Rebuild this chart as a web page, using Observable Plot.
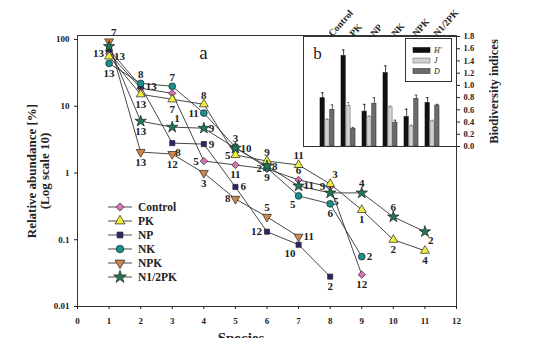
<!DOCTYPE html>
<html><head><meta charset="utf-8">
<script src="https://cdn.jsdelivr.net/npm/d3@7"></script>
<script src="https://cdn.jsdelivr.net/npm/@observablehq/plot@0.6"></script>
<style>
html,body{margin:0;padding:0;background:#fff;overflow:hidden;}
#wrap{position:relative;width:538px;height:338px;font-family:"Liberation Serif","Times New Roman",serif;}
#main{position:absolute;left:0;top:0;}
#inset{position:absolute;left:301px;top:0;}
#legA{position:absolute;left:100px;top:198px;}
#legB{position:absolute;left:405px;top:38px;}
</style></head><body>
<div id="wrap"><div id="main"></div><div id="inset"></div><div id="legA"></div><div id="legB"></div></div>
<script>
// ---------- Panel a: rank-abundance ----------
const treatments = ["Control", "PK", "NP", "NK", "NPK", "N1/2PK"];
const xTicks = [0,1,2,3,4,5,6,7,8,9,10,11,12];
const yTicks = [0.01, 0.1, 1, 10, 100];

const abundControl = [61.8, 18.6, 15.6, 1.51, 1.32, 1.15, 0.787, 0.618, 0.030];
const speciesControl = ["13", "", "", "5", "11", "2", "6", "9", "12"];
const posControl = ["l", "", "", "l", "b", "l", "t", "l", "b"];

const abundPK = [55.7, 15.1, 12.7, 10.7, 1.86, 1.51, 1.32, 0.685, 0.28, 0.10, 0.0685];
const speciesPK = ["13", "13", "7", "8", "5", "9", "11", "3", "1", "2", "4"];
const posPK = ["r", "b", "b", "t", "l", "t", "t", "tr", "b", "b", "b"];

const abundNP = [70.9, 19.9, 2.80, 2.71, 0.618, 0.132, 0.0842, 0.028];
const speciesNP = ["", "13", "8", "9", "6", "12", "10", "2"];
const posNP = ["", "r", "br", "r", "r", "l", "bl", "b"];

const abundNK = [43.8, 22.0, 19.9, 7.9, 2.44, 1.19, 0.454, 0.345, 0.0558];
const speciesNK = ["13", "8", "7", "11", "3", "9", "5", "6", "2"];
const posNK = ["b", "t", "t", "l", "t", "b", "bl", "b", "r"];

const abundNPK = [93.3, 2.06, 1.92, 1.0, 0.409, 0.220, 0.111];
const speciesNPK = ["7", "13", "12", "3", "8", "5", "11"];
const posNPK = ["tr", "b", "b", "b", "l", "t", "r"];

const abundN12PK = [78.6, 5.97, 4.86, 4.69, 2.36, 1.27, 0.64, 0.503, 0.503, 0.220, 0.132];
const speciesN12PK = ["", "13", "1", "9", "10", "8", "11", "5", "4", "6", "2"];
const posN12PK = ["", "b", "tr", "r", "r", "r", "r", "br", "t", "t", "br"];

// ---------- Panel b: biodiversity indices ----------
const metrics = ["H'", "J", "D"];
const valH = [0.79, 1.48, 0.57, 1.20, 0.48, 0.71];
const errH = [0.09, 0.10, 0.12, 0.12, 0.13, 0.09];
const valJ = [0.43, 0.66, 0.48, 0.64, 0.33, 0.41];
const errJ = [0.02, 0.06, 0.02, 0.02, 0.02, 0.02];
const valD = [0.60, 0.29, 0.70, 0.39, 0.78, 0.67];
const errD = [0.08, 0.02, 0.10, 0.04, 0.06, 0.02];
const yTicksB = [0, 0.2, 0.4, 0.6, 0.8, 1.0, 1.2, 1.4, 1.6, 1.8];

// ---------- build tables ----------
const seriesDefs = [
  ["Control", abundControl, speciesControl, posControl],
  ["PK", abundPK, speciesPK, posPK],
  ["NP", abundNP, speciesNP, posNP],
  ["NK", abundNK, speciesNK, posNK],
  ["NPK", abundNPK, speciesNPK, posNPK],
  ["N1/2PK", abundN12PK, speciesN12PK, posN12PK]
];
const rows = [];
for (const [t, vals, sp, ps] of seriesDefs)
  vals.forEach((v, i) => rows.push({treatment: t, rank: i + 1, value: v, species: sp[i], pos: ps[i]}));

const sqrt3 = Math.sqrt(3);
const triangleDown = {draw(ctx, size) {
  const y = -Math.sqrt(size / (sqrt3 * 3));
  ctx.moveTo(0, -y * 2); ctx.lineTo(-sqrt3 * y, y); ctx.lineTo(sqrt3 * y, y); ctx.closePath();
}};
const symbolOf = {"Control": d3.symbolDiamond2, "PK": d3.symbolTriangle, "NP": d3.symbolSquare, "NK": d3.symbolCircle, "NPK": triangleDown, "N1/2PK": d3.symbolStar};
const colorOf = {"Control": "#e070b6", "PK": "#f2f03c", "NP": "#28286e", "NK": "#17918c", "NPK": "#d48648", "N1/2PK": "#1f7a52"};
const radiusOf = {"Control": 3.3, "PK": 3.3, "NP": 2.9, "NK": 3.4, "NPK": 3.3, "N1/2PK": 3.6};

const posStyle = {
  t: {dx: 0, dy: -9, textAnchor: "middle"},
  b: {dx: 0, dy: 10, textAnchor: "middle"},
  l: {dx: -5, dy: 0, textAnchor: "end"},
  r: {dx: 5, dy: 0, textAnchor: "start"},
  tr: {dx: 2, dy: -9, textAnchor: "start"},
  tl: {dx: -2, dy: -9, textAnchor: "end"},
  br: {dx: 3, dy: 9, textAnchor: "start"},
  bl: {dx: -3, dy: 9, textAnchor: "end"}
};

const serif = "'Liberation Serif','Times New Roman',serif";

const mainMarks = [
  Plot.frame({stroke: "#333", strokeWidth: 1}),
  Plot.axisX({ticks: xTicks, tickSize: 3, tickPadding: 8, label: null, fontWeight: "bold", fontSize: 9, tickFormat: d => String(d)}),
  Plot.axisY({ticks: yTicks, tickSize: 3, tickPadding: 5, label: null, fontWeight: "bold", fontSize: 9, tickFormat: d => String(d)}),
  Plot.line(rows, {x: "rank", y: "value", z: "treatment", stroke: "#333", strokeWidth: 0.9})
];
for (const t of treatments) {
  mainMarks.push(Plot.dot(rows.filter(d => d.treatment === t), {
    x: "rank", y: "value", symbol: symbolOf[t], fill: colorOf[t], stroke: "#222", strokeWidth: 0.7, r: radiusOf[t]
  }));
}
for (const p of Object.keys(posStyle)) {
  mainMarks.push(Plot.text(rows.filter(d => d.pos === p && d.species), {
    x: "rank", y: "value", text: "species", ...posStyle[p], fontSize: 11, fontWeight: "bold", fill: "#222"
  }));
}
mainMarks.push(
  Plot.text(["a"], {frameAnchor: "top-left", dx: 126, dy: 17, textAnchor: "middle", lineAnchor: "middle", fontSize: 19, fill: "#222"}),
  Plot.text(["Relative abundance [%]\n(Log scale 10)"], {frameAnchor: "left", dx: -39, rotate: -90, textAnchor: "middle", lineAnchor: "middle", lineHeight: 1.0, fontSize: 13, fontWeight: "bold", fill: "#222"}),
  Plot.text(["Species"], {frameAnchor: "bottom", dx: -26, dy: 26, lineAnchor: "top", fontSize: 15, fontWeight: "bold", fill: "#222"})
);

const main = Plot.plot({
  width: 538, height: 338,
  marginLeft: 77, marginRight: 82, marginTop: 35, marginBottom: 32,
  style: {fontFamily: serif, color: "#222", background: "transparent", overflow: "visible"},
  x: {domain: [0, 12]},
  y: {type: "log", domain: [0.01, 114.7]},
  marks: mainMarks
});
document.getElementById("main").append(main);

// ---------- inset ----------
const bRows = treatments.map((t, i) => ({treatment: t, h: valH[i], he: errH[i], j: valJ[i], je: errJ[i], dd: valD[i], de: errD[i]}));
const plotW = 153, padIn = 0.33, padOut = 0.666;
const step = plotW / (treatments.length - padIn + 2 * padOut);
const bw = step * (1 - padIn);
const w3 = bw / 3;
const capHalf = 1.6;
function cap(k) { return {insetLeft: (k + 0.5) * w3 - capHalf, insetRight: bw - (k + 0.5) * w3 - capHalf}; }
const keyFields = [["h", "he", "#111", "#111"], ["j", "je", "#d0d0d0", "#777"], ["dd", "de", "#6b6b6b", "#333"]];
const insetMarks = [];
keyFields.forEach(([f, e, fill, stroke], k) => {
  insetMarks.push(
    Plot.ruleX(bRows, {x: "treatment", y1: f, y2: d => d[f] + d[e], dx: (k - 1) * w3, stroke: stroke, strokeWidth: 0.8}),
    Plot.tickY(bRows, {x: "treatment", y: d => d[f] + d[e], stroke: stroke, strokeWidth: 0.8, ...cap(k)}),
    Plot.barY(bRows, {x: "treatment", y: f, fill: fill, stroke: stroke, strokeWidth: 0.6, insetLeft: k * w3, insetRight: (2 - k) * w3})
  );
});
insetMarks.push(
  Plot.frame({stroke: "#333", strokeWidth: 1}),
  Plot.axisY({anchor: "right", ticks: yTicksB, tickSize: 3, tickPadding: 4, tickFormat: d => d.toFixed(1), label: null, fontWeight: "bold", fontSize: 8.5}),
  Plot.text(treatments, {x: d => d, frameAnchor: "top", dy: -4, rotate: -48, textAnchor: "start", fontSize: 9.5, fontWeight: "bold", fill: "#222"}),
  Plot.text(["b"], {frameAnchor: "top-left", dx: 14, dy: 17, textAnchor: "middle", lineAnchor: "middle", fontSize: 17, fill: "#222"}),
  Plot.text(["Biodiversity indices"], {frameAnchor: "right", dx: 37, rotate: -90, textAnchor: "middle", lineAnchor: "middle", fontSize: 12.5, fontWeight: "bold", fill: "#222"})
);
const inset = Plot.plot({
  width: 237, height: 150,
  marginLeft: 2, marginRight: 82, marginTop: 36, marginBottom: 4,
  style: {fontFamily: serif, color: "#222", background: "transparent", overflow: "visible"},
  x: {type: "band", domain: treatments, paddingInner: padIn, paddingOuter: padOut, axis: null},
  y: {domain: [0, 1.8], axis: null},
  marks: insetMarks
});
// white backdrop for inset plot area
d3.select(inset).insert("rect", ":first-child").attr("x", 2).attr("y", 36).attr("width", plotW).attr("height", 110).attr("fill", "#fff");
document.getElementById("inset").append(inset);

// ---------- legend a ----------
const legA = d3.select("#legA").append("svg").attr("width", 100).attr("height", 90);
treatments.forEach((t, i) => {
  const y = 9 + i * 14;
  legA.append("line").attr("x1", 8).attr("x2", 32).attr("y1", y).attr("y2", y).attr("stroke", "#333").attr("stroke-width", 0.9);
  const r = radiusOf[t] + 0.4;
  legA.append("path").attr("d", d3.symbol(symbolOf[t], Math.PI * r * r)()).attr("transform", `translate(20,${y})`)
    .attr("fill", colorOf[t]).attr("stroke", "#222").attr("stroke-width", 0.7);
  legA.append("text").attr("x", 38).attr("y", y).attr("dy", "0.35em").text(t)
    .attr("font-family", serif).attr("font-size", 11.5).attr("font-weight", "bold").attr("fill", "#222");
});

// ---------- legend b ----------
const legB = d3.select("#legB").append("svg").attr("width", 48).attr("height", 45);
legB.append("rect").attr("x", 0.5).attr("y", 0.5).attr("width", 46).attr("height", 43).attr("fill", "#fff").attr("stroke", "#333");
const legBFill = ["#111", "#d0d0d0", "#6b6b6b"], legBStroke = ["#111", "#777", "#333"];
metrics.forEach((m, i) => {
  const y = 12 + i * 10.5;
  legB.append("rect").attr("x", 8).attr("y", y - 2.5).attr("width", 17).attr("height", 5).attr("fill", legBFill[i]).attr("stroke", legBStroke[i]).attr("stroke-width", 0.6);
  legB.append("text").attr("x", 29).attr("y", y).attr("dy", "0.35em").text(m)
    .attr("font-family", serif).attr("font-size", 8).attr("font-style", "italic").attr("fill", "#222");
});
</script>
</body></html>
